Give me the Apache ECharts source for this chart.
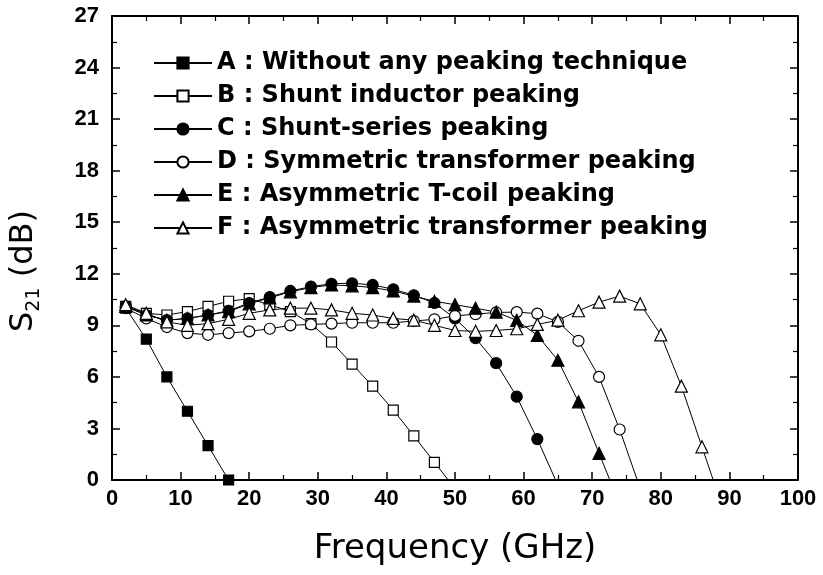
<!DOCTYPE html>
<html><head><meta charset="utf-8">
<script src="https://cdn.jsdelivr.net/npm/echarts@6/dist/echarts.min.js"></script>
<style>html,body{margin:0;padding:0;background:#fff}#c{width:823px;height:575px}</style>
</head><body><div id="c"></div>
<script>
// Frequency grid (GHz), shared by all curves (each curve uses the first N entries)
const freq = [2,5,8,11,14,17,20,23,26,29,32,35,38,41,44,47,50,53,56,59,62,65,68,71,74,77,80,83,86,89];

const names = [
  'A : Without any peaking technique',
  'B : Shunt inductor peaking',
  'C : Shunt-series peaking',
  'D : Symmetric transformer peaking',
  'E : Asymmetric T-coil peaking',
  'F : Asymmetric transformer peaking'
];

// S21 (dB) values
const valA = [10.0, 8.2, 6.0, 4.0, 2.0, 0.0];
const valB = [10.1, 9.7, 9.6, 9.8, 10.1, 10.4, 10.55, 10.2, 9.8, 9.1, 8.03, 6.74, 5.46, 4.07, 2.57, 1.03, -0.5];
const valC = [10.1, 9.6, 9.3, 9.4, 9.6, 9.85, 10.3, 10.65, 11.0, 11.25, 11.42, 11.45, 11.35, 11.1, 10.75, 10.3, 9.4, 8.25, 6.8, 4.85, 2.38, -0.3];
const valD = [10.0, 9.4, 8.9, 8.55, 8.45, 8.55, 8.65, 8.8, 9.0, 9.05, 9.1, 9.15, 9.15, 9.15, 9.25, 9.35, 9.55, 9.65, 9.75, 9.77, 9.68, 9.2, 8.1, 6.0, 2.94, -0.5];
const valE = [10.1, 9.6, 9.3, 9.4, 9.6, 9.8, 10.25, 10.6, 10.95, 11.2, 11.35, 11.3, 11.2, 11.0, 10.7, 10.4, 10.2, 10.0, 9.77, 9.29, 8.42, 6.97, 4.55, 1.55, -1.4];
const valF = [10.2, 9.7, 9.2, 9.0, 9.1, 9.35, 9.7, 9.9, 10.0, 10.0, 9.9, 9.7, 9.6, 9.4, 9.3, 9.0, 8.7, 8.65, 8.7, 8.8, 9.05, 9.3, 9.85, 10.35, 10.7, 10.25, 8.45, 5.46, 1.93, -1.6];

const symbols = ['rect','rect','circle','circle','triangle','triangle'];
const filled = [true,false,true,false,true,false];
const sizes = [10,10,11,11,12,12];
const allVals = [valA,valB,valC,valD,valE,valF];

const series = allVals.map((vals, k) => ({
  type: 'line',
  name: names[k],
  data: vals.map((v, i) => [freq[i], v]),
  symbol: symbols[k],
  symbolSize: sizes[k],
  showAllSymbol: true,
  clip: true,
  lineStyle: {color: '#000', width: 1},
  itemStyle: {color: filled[k] ? '#000' : '#fff', borderColor: '#000', borderWidth: 1.2},
  emphasis: {disabled: true},
  z: 2
}));

const axisLineStyle = {onZero: false, lineStyle: {color: '#000', width: 2}};
const tickStyle = {inside: true, length: 8, lineStyle: {color: '#000', width: 1.5}};
const minorStyle = {show: true, splitNumber: 2, length: 5, lineStyle: {color: '#000', width: 1.2}};

const chart = echarts.init(document.getElementById('c'), null, {renderer: 'canvas'});
chart.setOption({
  animation: false,
  backgroundColor: '#fff',
  grid: {left: 110, right: 25, top: 16, bottom: 95},
  legend: {
    orient: 'vertical', left: 148, top: 46,
    itemWidth: 58, itemHeight: 14, itemGap: 9,
    textStyle: {fontFamily: 'DejaVu Sans', fontWeight: 'bold', fontSize: 24, color: '#000', lineHeight: 20},
    data: names
  },
  xAxis: [
    {type: 'value', min: 0, max: 100, interval: 10, position: 'bottom',
     axisLine: axisLineStyle, axisTick: tickStyle, minorTick: minorStyle,
     splitLine: {show: false},
     axisLabel: {color: '#000', fontSize: 22, fontWeight: 'bold', fontFamily: 'Liberation Sans', margin: 8},
     name: 'Frequency (GHz)', nameLocation: 'middle', nameGap: 52,
     nameTextStyle: {fontFamily: 'DejaVu Sans', fontSize: 34, color: '#000'}},
    {type: 'value', min: 0, max: 100, interval: 10, position: 'top',
     axisLine: axisLineStyle, axisTick: tickStyle, minorTick: minorStyle,
     splitLine: {show: false}, axisLabel: {show: false}}
  ],
  yAxis: [
    {type: 'value', min: 0, max: 27, interval: 3, position: 'left',
     axisLine: axisLineStyle, axisTick: tickStyle, minorTick: minorStyle,
     splitLine: {show: false},
     axisLabel: {color: '#000', fontSize: 22, fontWeight: 'bold', fontFamily: 'Liberation Sans', margin: 13},
     name: '{s|S}{sub|21}{s| (dB)}', nameLocation: 'middle', nameGap: 68,
     nameTextStyle: {fontFamily: 'DejaVu Sans', color: '#000', padding: [0, 46, 0, 0],
       rich: {
         s: {fontFamily: 'DejaVu Sans', fontSize: 32, color: '#000', lineHeight: 40, verticalAlign: 'middle'},
         sub: {fontFamily: 'DejaVu Sans', fontSize: 19, color: '#000', lineHeight: 40, verticalAlign: 'bottom'}
       }}},
    {type: 'value', min: 0, max: 27, interval: 3, position: 'right',
     axisLine: axisLineStyle, axisTick: tickStyle, minorTick: minorStyle,
     splitLine: {show: false}, axisLabel: {show: false}}
  ],
  series: series
});
</script></body></html>
